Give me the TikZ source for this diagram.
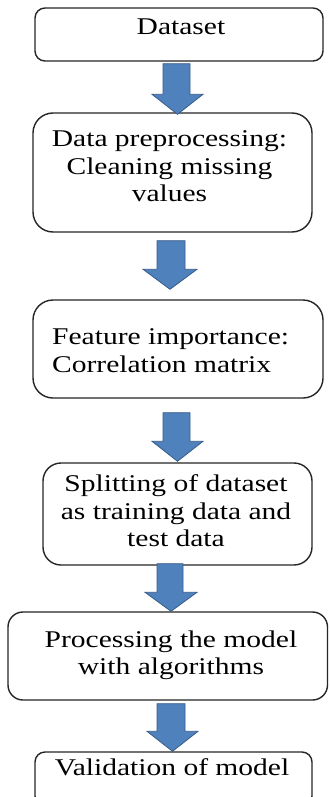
\documentclass[tikz,border=0pt]{standalone}
\usepackage{fontspec}
\usepackage{graphicx}
\usetikzlibrary{calc}
\setmainfont{Liberation Serif}
\definecolor{arrfill}{HTML}{4F81BD}
\definecolor{arredge}{HTML}{385D8A}
\definecolor{boxedge}{HTML}{262626}
\newcommand{\txt}[1]{\scalebox{1.23}[1]{\begin{tabular}{@{}c@{}}#1\end{tabular}}}
\newcommand{\txtl}[1]{\scalebox{1.23}[1]{\begin{tabular}{@{}l@{}}#1\end{tabular}}}
\tikzset{
  stepbox/.style={draw=boxedge, line width=1.4pt, fill=white, rectangle, inner sep=0pt, anchor=center},
  lbl/.style={inner sep=0pt, font=\fontsize{24}{27.5}\selectfont},
  blockarr/.style={fill=arrfill, draw=arredge, line width=0.8pt, line join=miter}
}
% block arrow from node #1 to node #2
% #3 shaft x, #4 head x, #5 gap below #1, #6 gap above #2, #7 head length, #8 shaft half width, #9 head half width
\newcommand{\barrow}[9]{%
  \path[blockarr] let \p1=(#1.south), \p2=(#2.north) in
    (#3pt-#8pt,\y1-#5pt) -- (#3pt+#8pt,\y1-#5pt) -- (#3pt+#8pt,\y2+#6pt+#7pt)
    -- (#4pt+#9pt,\y2+#6pt+#7pt) -- (#4pt,\y2+#6pt) -- (#4pt-#9pt,\y2+#6pt+#7pt)
    -- (#3pt-#8pt,\y2+#6pt+#7pt) -- cycle;}
\begin{document}
\begin{tikzpicture}[x=1pt,y=-1pt]
\useasboundingbox (0,0) rectangle (329,797);
\fill[white] (0,0) rectangle (329,797);
% boxes
\node[stepbox, rounded corners=10pt, minimum width=288pt, minimum height=53pt] (b1) at (179,34.5) {};
\node[stepbox, rounded corners=20pt, minimum width=279pt, minimum height=119pt] (b2) at (172.5,172.5) {};
\node[stepbox, rounded corners=20pt, minimum width=290pt, minimum height=98pt] (b3) at (178,349) {};
\node[stepbox, rounded corners=18pt, minimum width=269pt, minimum height=102pt] (b4) at (177.5,514) {};
\node[stepbox, rounded corners=15pt, minimum width=319.5pt, minimum height=88pt] (b5) at (167.75,656) {};
\node[stepbox, rounded corners=10pt, minimum width=277pt, minimum height=54pt] (b6) at (173.5,779) {};
% arrows
\barrow{b1}{b2}{176.5}{177.5}{2}{-2}{20}{13.5}{25.5}
\barrow{b2}{b3}{171}{170}{8}{10}{20}{14}{27}
\barrow{b3}{b4}{176.5}{177.5}{14}{1}{20}{13.5}{25.5}
\barrow{b4}{b5}{170}{171}{-2}{0}{19}{13}{26}
\barrow{b5}{b6}{171}{172.5}{3}{0}{20}{14}{25.5}
% texts
\node[lbl] (t1) at (181,29.5) {\txt{Dataset}};
\node[lbl] (t2) at (169.5,168.5) {\txt{Data preprocessing:\\Cleaning missing\\values}};
\node[lbl, anchor=west] (t3) at (52,353) {\txtl{Feature importance:\\Correlation matrix}};
\node[lbl] (t4) at (176,513.5) {\txt{Splitting of dataset\\as training data and\\test data}};
\node[lbl] (t5) at (171,655.5) {\txt{Processing the model\\with algorithms}};
\node[lbl] (t6) at (172,769.5) {\txt{Validation of model}};
\end{tikzpicture}
\end{document}
